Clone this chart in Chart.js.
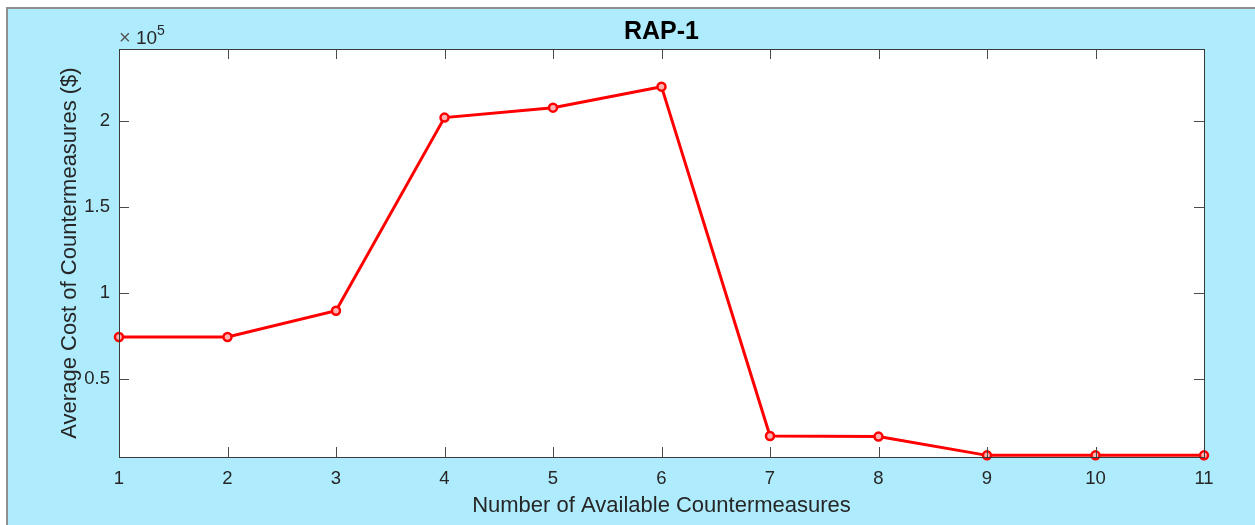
<!DOCTYPE html>
<html>
<head>
<meta charset="utf-8">
<script src="https://cdn.jsdelivr.net/npm/chart.js@4.4.1/dist/chart.umd.min.js"></script>
<style>
  html, body { margin: 0; padding: 0; background: #fff; }
  #fig { position: absolute; left: 0; top: 0; width: 1255px; height: 525px; }
  #frame { position: absolute; left: 6px; top: 7px; right: 0; bottom: 0; background: #aeebfc;
           border-left: 2px solid #8f8f8f; border-top: 2px solid #8f8f8f; }
  canvas { position: absolute; left: 0; top: 0; }
</style>
</head>
<body>
<div id="fig">
  <div id="frame"></div>
  <canvas id="chartRap" width="1255" height="525"></canvas>
</div>
<script>
const countermeasures = [1, 2, 3, 4, 5, 6, 7, 8, 9, 10, 11];
const avgCost = [74400, 74400, 89700, 202000, 207800, 220000, 16900, 16500, 5600, 5600, 5600];
const yTicks = [50000, 100000, 150000, 200000];
const yTickLabels = ['0.5', '1', '1.5', '2'];
const yRange = [4650, 241900];

const FONT = '"Liberation Sans", Arial, sans-serif';
const INK = '#262626';

// MATLAB-like box: white axes, inward ticks on all four sides, exponent label, title
const matlabBox = {
  id: 'matlabBox',
  beforeDatasetsDraw(chart) {
    const { ctx, chartArea: a } = chart;
    ctx.save();
    ctx.fillStyle = '#fff';
    ctx.fillRect(a.left, a.top, a.right - a.left, a.bottom - a.top);
    ctx.restore();
  },
  afterDatasetsDraw(chart) {
    const { ctx, chartArea: a, scales: { x, y } } = chart;
    ctx.save();
    ctx.lineWidth = 1;
    ctx.strokeStyle = '#4a4a4a';
    ctx.beginPath();
    x.ticks.forEach(t => {
      const px = Math.round(x.getPixelForValue(t.value)) + 0.5;
      ctx.moveTo(px, a.bottom); ctx.lineTo(px, a.bottom - 10);
      ctx.moveTo(px, a.top); ctx.lineTo(px, a.top + 10);
    });
    y.ticks.forEach(t => {
      const py = Math.round(y.getPixelForValue(t.value)) + 0.5;
      ctx.moveTo(a.left, py); ctx.lineTo(a.left + 10, py);
      ctx.moveTo(a.right, py); ctx.lineTo(a.right - 10, py);
    });
    ctx.stroke();
    ctx.strokeStyle = '#3a3a3a';
    ctx.strokeRect(Math.round(a.left) + 0.5, Math.round(a.top) + 0.5,
      Math.round(a.right - a.left), Math.round(a.bottom - a.top));
    ctx.restore();
  },
  afterDraw(chart) {
    const { ctx, chartArea: a } = chart;
    ctx.save();
    ctx.fillStyle = '#000';
    ctx.font = 'bold 25px ' + FONT;
    ctx.textAlign = 'center';
    ctx.textBaseline = 'alphabetic';
    ctx.fillText('RAP-1', (a.left + a.right) / 2, 39);
    // exponent label
    ctx.fillStyle = '#555';
    ctx.textAlign = 'left';
    ctx.font = '20px ' + FONT;
    ctx.fillText('\u00d7', 119, 44);
    ctx.fillStyle = INK;
    ctx.font = '19px ' + FONT;
    ctx.fillText('10', 136, 44);
    ctx.font = '14px ' + FONT;
    ctx.fillText('5', 157, 35);
    ctx.restore();
  }
};

document.addEventListener('DOMContentLoaded', () => {
  const ctx = document.getElementById('chartRap');
  new Chart(ctx, {
    type: 'line',
    data: {
      datasets: [{
        data: countermeasures.map((c, i) => ({ x: c, y: avgCost[i] })),
        borderColor: '#ff0000',
        borderWidth: 3,
        pointRadius: 4,
        pointBorderWidth: 2.5,
        pointBorderColor: '#ff0000',
        pointBackgroundColor: '#ffb3b3',
        tension: 0,
        clip: false,
      }],
    },
    options: {
      responsive: false,
      animation: false,
      layout: { padding: { left: 0, top: 49, right: 51, bottom: 0 } },
      plugins: { legend: { display: false }, tooltip: { enabled: false }, title: { display: false } },
      scales: {
        x: {
          type: 'linear',
          min: countermeasures[0],
          max: countermeasures[countermeasures.length - 1],
          afterFit: (s) => { s.height = 68; },
          grid: { display: false, drawTicks: false },
          border: { display: false },
          ticks: { stepSize: 1, padding: 11, color: INK, font: { family: FONT, size: 18.5 }, maxRotation: 0 },
          title: { display: true, text: 'Number of Available Countermeasures', color: INK,
                   font: { family: FONT, size: 22 }, padding: { top: 0, bottom: 6 } },
        },
        y: {
          min: yRange[0],
          max: yRange[1],
          afterFit: (s) => { s.width = 119; },
          afterBuildTicks: (s) => { s.ticks = yTicks.map(v => ({ value: v })); },
          grid: { display: false, drawTicks: false },
          border: { display: false },
          ticks: {
            padding: 9, color: INK, font: { family: FONT, size: 18.5 },
            callback: (v) => yTickLabels[yTicks.indexOf(v)],
          },
          title: { display: true, text: 'Average Cost of Countermeasures ($)', color: INK,
                   font: { family: FONT, size: 22 }, padding: { top: 57, bottom: 0 } },
        },
      },
    },
    plugins: [matlabBox],
  });
});
</script>
</body>
</html>
